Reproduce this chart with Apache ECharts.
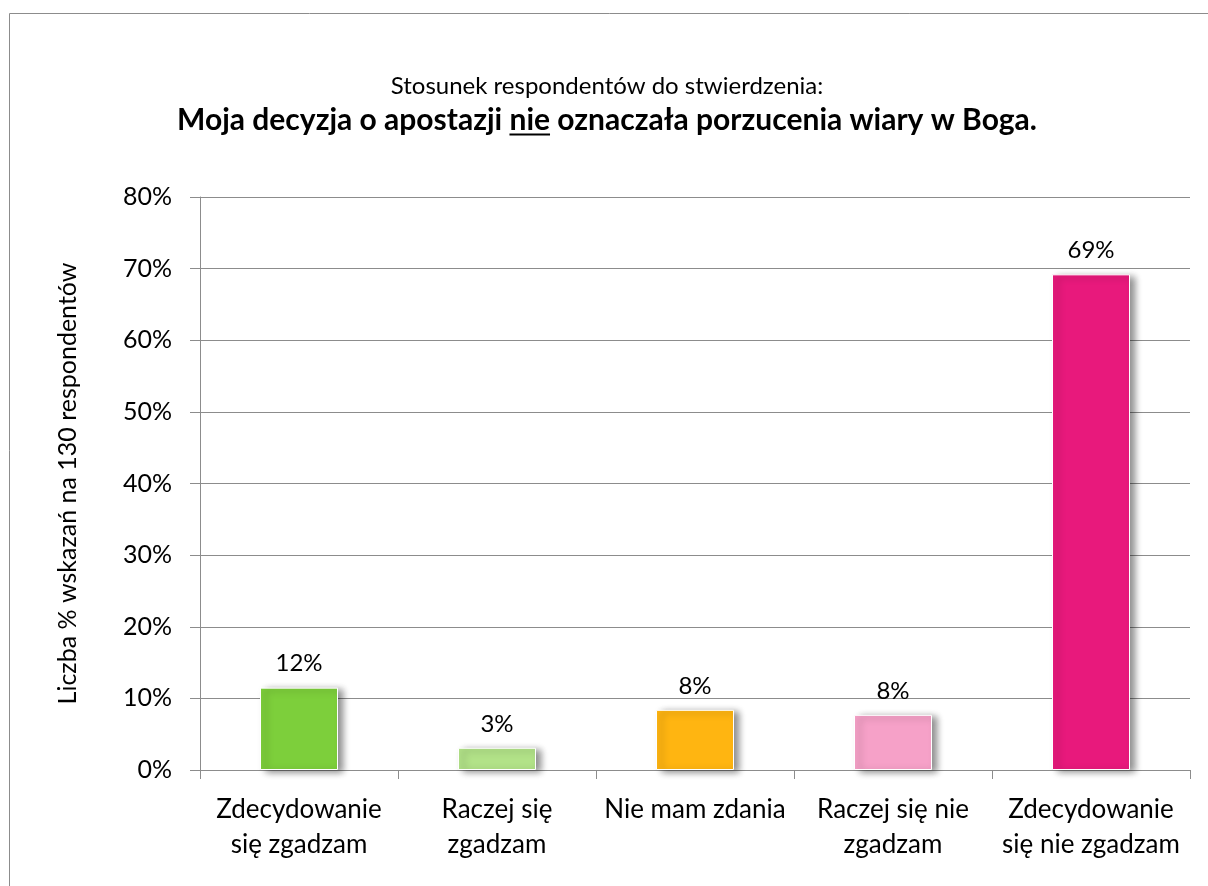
<!DOCTYPE html>
<html>
<head>
<meta charset="utf-8">
<title>Apostazja</title>
<script src="https://cdn.jsdelivr.net/npm/echarts@6/dist/echarts.min.js"></script>
<style>
  html, body { margin: 0; padding: 0; background: #fff; }
  #chart { width: 1208px; height: 886px; }
</style>
</head>
<body>
<div id="chart"></div>
<script>
// dane z wykresu (130 respondentów)
const categories = [
  'Zdecydowanie\nsię zgadzam',
  'Raczej się\nzgadzam',
  'Nie mam zdania',
  'Raczej się nie\nzgadzam',
  'Zdecydowanie\nsię nie zgadzam'
]
const values = [11.5, 3.1, 8.4, 7.7, 69.2]
const colors = ['#7dcf3b', '#b2e288', '#ffb511', '#f6a1c8', '#e8197c']

const subTitle = 'Stosunek respondentów do stwierdzenia:'
const titleParts = ['Moja decyzja o apostazji ', 'nie', ' oznaczała porzucenia wiary w Boga.']
const yName = 'Liczba % wskazań na 130 respondentów'

const FONT = 'Lato, "Noto Sans", sans-serif'
const titleCx = 607

// szerokość tekstu do podkreślenia "nie"
function textWidth(txt, font) {
  const ctx = document.createElement('canvas').getContext('2d')
  ctx.font = font
  return ctx.measureText(txt).width
}
const boldFont = 'bold 30px ' + FONT
const fullW = textWidth(titleParts.join(''), boldFont)
const ulStart = titleCx - fullW / 2 + textWidth(titleParts[0], boldFont)
const ulEnd = ulStart + textWidth(titleParts[1], boldFont)

const chart = echarts.init(document.getElementById('chart'))
chart.setOption({
  animation: false,
  textStyle: { fontFamily: FONT },
  grid: { left: 200, right: 18, top: 197, bottom: 116 },
  graphic: [
    {
      type: 'rect',
      shape: { x: 9.5, y: 13.5, width: 1300, height: 1000 },
      style: { fill: 'none', stroke: '#8c8c8c', lineWidth: 1 },
      silent: true
    },
    {
      type: 'text',
      x: titleCx, y: 86,
      style: { text: subTitle, font: '24px ' + FONT, fill: '#000', align: 'center', verticalAlign: 'middle' }
    },
    {
      type: 'text',
      x: titleCx, y: 120,
      style: { text: titleParts.join(''), font: boldFont, fill: '#000', align: 'center', verticalAlign: 'middle' }
    },
    {
      type: 'line',
      shape: { x1: ulStart, y1: 134.5, x2: ulEnd, y2: 134.5 },
      style: { stroke: '#000', lineWidth: 2 }
    }
  ],
  xAxis: {
    type: 'category',
    data: categories,
    axisLine: { lineStyle: { color: '#8c8c8c' } },
    axisTick: { show: true, length: 9, lineStyle: { color: '#8c8c8c' } },
    axisLabel: { color: '#000', fontSize: 26, lineHeight: 35, margin: 22, interval: 0 }
  },
  yAxis: {
    type: 'value',
    min: 0,
    max: 80,
    interval: 10,
    name: yName,
    nameLocation: 'middle',
    nameGap: 120,
    nameTextStyle: { color: '#000', fontSize: 25 },
    axisLine: { show: true, lineStyle: { color: '#8c8c8c' } },
    axisTick: { show: true, length: 10, lineStyle: { color: '#8c8c8c' } },
    axisLabel: { color: '#000', fontSize: 25, margin: 28, formatter: '{value}%' },
    splitLine: { lineStyle: { color: '#8c8c8c' } }
  },
  series: [
    {
      type: 'bar',
      data: values.map((v, i) => ({ value: v, itemStyle: { color: colors[i] } })),
      barWidth: 78,
      itemStyle: {
        borderColor: '#fff',
        borderWidth: 1,
        shadowColor: 'rgba(0,0,0,0.45)',
        shadowBlur: 7,
        shadowOffsetX: 5,
        shadowOffsetY: 2
      },
      label: {
        show: true,
        position: 'top',
        distance: 12,
        color: '#000',
        fontSize: 24,
        formatter: (p) => Math.round(p.value) + '%'
      }
    }
  ]
})
</script>
</body>
</html>
